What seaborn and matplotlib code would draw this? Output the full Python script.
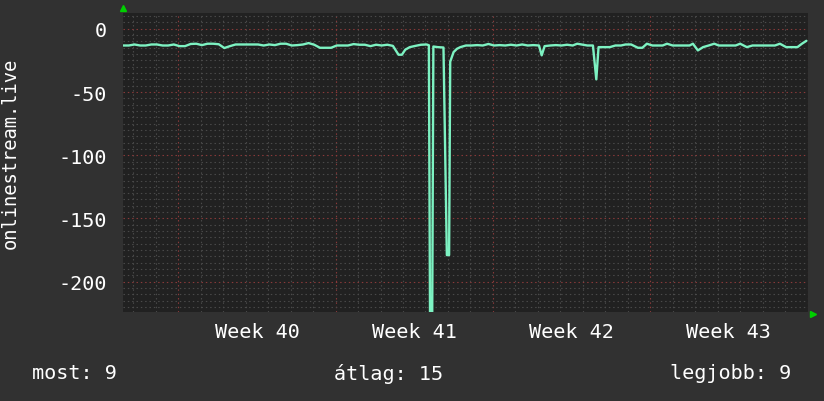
import numpy as np
import pandas as pd
import matplotlib
matplotlib.use('Agg')
import matplotlib.pyplot as plt
import seaborn as sns

# idő napokban (0 = 40. hét kezdete), értékek
days = [
    -2.45, -2.2, -1.95, -1.7, -1.45, -1.2, -0.95, -0.7, -0.45, -0.2,
    0.05, 0.3, 0.55, 0.8, 1.05, 1.3, 1.55, 1.8, 2.05, 2.3,
    2.55, 2.8, 3.05, 3.3, 3.55, 3.8, 4.05, 4.3, 4.55, 4.8,
    5.05, 5.3, 5.55, 5.8, 6.05, 6.3, 6.55, 6.8, 7.05, 7.3,
    7.55, 7.8, 8.05, 8.3, 8.55, 8.8, 9.05, 9.3, 9.55, 9.8,
    9.95, 10.1, 10.3, 10.55, 10.8, 11.05, 11.15, 11.2, 11.3, 11.35,
    11.55, 11.8, 11.95, 12.05, 12.1, 12.17, 12.25, 12.4, 12.55, 12.8,
    13.05, 13.3, 13.55, 13.8, 14.05, 14.3, 14.55, 14.8, 15.05, 15.3,
    15.55, 15.8, 16.05, 16.17, 16.3, 16.55, 16.8, 17.05, 17.3, 17.55,
    17.75, 17.95, 18.2, 18.45, 18.6, 18.7, 18.95, 19.2, 19.45, 19.7,
    19.9, 20.15, 20.45, 20.65, 20.85, 21.1, 21.35, 21.55, 21.75, 22.0,
    22.25, 22.5, 22.75, 22.9, 23.12, 23.35, 23.6, 23.85, 24.05, 24.3,
    24.55, 24.8, 25.0, 25.3, 25.55, 25.8, 26.05, 26.3, 26.55, 26.77,
    27.05, 27.3, 27.55, 27.75, 27.95,
]
values = [
    -13.2, -13.2, -12.4, -13.2, -13.2, -12.4, -12.4, -13.2, -13.2, -12.4,
    -13.7, -13.7, -12.0, -11.8, -12.9, -11.8, -11.8, -12.2, -15.2, -13.7,
    -12.4, -12.4, -12.4, -12.4, -12.4, -13.2, -12.4, -12.9, -11.8, -11.8,
    -13.2, -12.9, -12.4, -11.3, -12.6, -15.0, -15.0, -15.0, -13.2, -13.2,
    -13.2, -12.1, -12.6, -12.6, -13.7, -12.6, -13.2, -12.6, -13.5, -20.5,
    -20.5, -16.5, -14.5, -13.5, -12.6, -12.4, -13.0, -224.0, -224.0, -14.0,
    -14.5, -14.8, -179.0, -179.0, -26.0, -22.4, -18.4, -15.8, -14.5, -13.2,
    -13.2, -12.9, -13.2, -12.0, -13.2, -12.9, -13.2, -12.6, -13.2, -12.4,
    -13.2, -12.9, -13.2, -21.0, -13.7, -13.2, -12.9, -13.2, -12.6, -13.2,
    -11.8, -12.4, -13.2, -13.2, -40.0, -14.5, -14.5, -14.5, -13.2, -13.2,
    -12.4, -12.4, -15.0, -15.0, -11.8, -13.2, -13.2, -13.2, -11.8, -13.2,
    -13.2, -13.2, -13.2, -11.8, -17.1, -14.5, -13.2, -11.8, -13.2, -13.2,
    -13.2, -13.2, -11.8, -14.5, -13.2, -13.2, -13.2, -13.2, -13.2, -11.8,
    -14.5, -14.5, -14.5, -11.8, -9.5,
]

week_labels = ['Week 40', 'Week 41', 'Week 42', 'Week 43']
week_centers = [3.5, 10.5, 17.5, 24.5]
y_ticks = [0, -50, -100, -150, -200]
y_tick_labels = ['0', '-50', '-100', '-150', '-200']
legend_texts = ['most: 9', 'átlag: 15', 'legjobb: 9']

df = pd.DataFrame({'day': days, 'value': values})

sns.set_style('dark')
plt.rcParams['font.family'] = ['DejaVu Sans Mono', 'DejaVu Sans']

fig = plt.figure(figsize=(8.24, 4.02), dpi=100, facecolor='#313131')
ax = fig.add_axes([123 / 824, 1 - 313 / 402, 685 / 824, 299 / 402])
ax.set_facecolor('#212121')

# rács: napok / hetek, 5-ös és 50-es lépések
for d in range(-2, 29):
    c = '#8a3a3a' if d % 7 == 0 else '#4a4a4a'
    ax.axvline(d, color=c, lw=0.8, linestyle=(0, (1.3, 2.6)), zorder=1)
for v in range(-220, 15, 5):
    c = '#8a3a3a' if v % 50 == 0 else '#4a4a4a'
    ax.axhline(v, color=c, lw=0.8, linestyle=(0, (1.3, 2.6)), zorder=1)

sns.lineplot(data=df, x='day', y='value', ax=ax, color='#7df2c2',
             linewidth=1.7, estimator=None, zorder=3)

ax.set_xlim(-2.46, 28.02)
ax.set_ylim(-224, 12.5)
ax.set_xticks(week_centers)
ax.set_xticklabels(week_labels)
ax.set_yticks(y_ticks)
ax.set_yticklabels(y_tick_labels)
ax.tick_params(axis='both', length=0, colors='white', labelsize=14.5)
ax.tick_params(axis='y', pad=11.5)
ax.tick_params(axis='x', pad=7)
ax.set_xlabel('')
ax.set_ylabel('onlinestream.live', color='white', fontsize=13.5)
ax.yaxis.set_label_coords(-0.151, 0.535)
for s in ax.spines.values():
    s.set_visible(False)

# zöld nyilak a tengelyek végén
ax.plot([0.0], [1.017], marker='^', color='#00d000', markersize=5,
        transform=ax.transAxes, clip_on=False)
ax.plot([1.007], [-0.007], marker='>', color='#00d000', markersize=5,
        transform=ax.transAxes, clip_on=False)

fig.text(32 / 824, 1 - 374 / 402, legend_texts[0], color='white', fontsize=14.5, va='center', ha='left')
fig.text(334 / 824, 1 - 374 / 402, legend_texts[1], color='white', fontsize=14.5, va='center', ha='left')
fig.text(791 / 824, 1 - 374 / 402, legend_texts[2], color='white', fontsize=14.5, va='center', ha='right')

fig.savefig('out.png', dpi=100, facecolor=fig.get_facecolor())
